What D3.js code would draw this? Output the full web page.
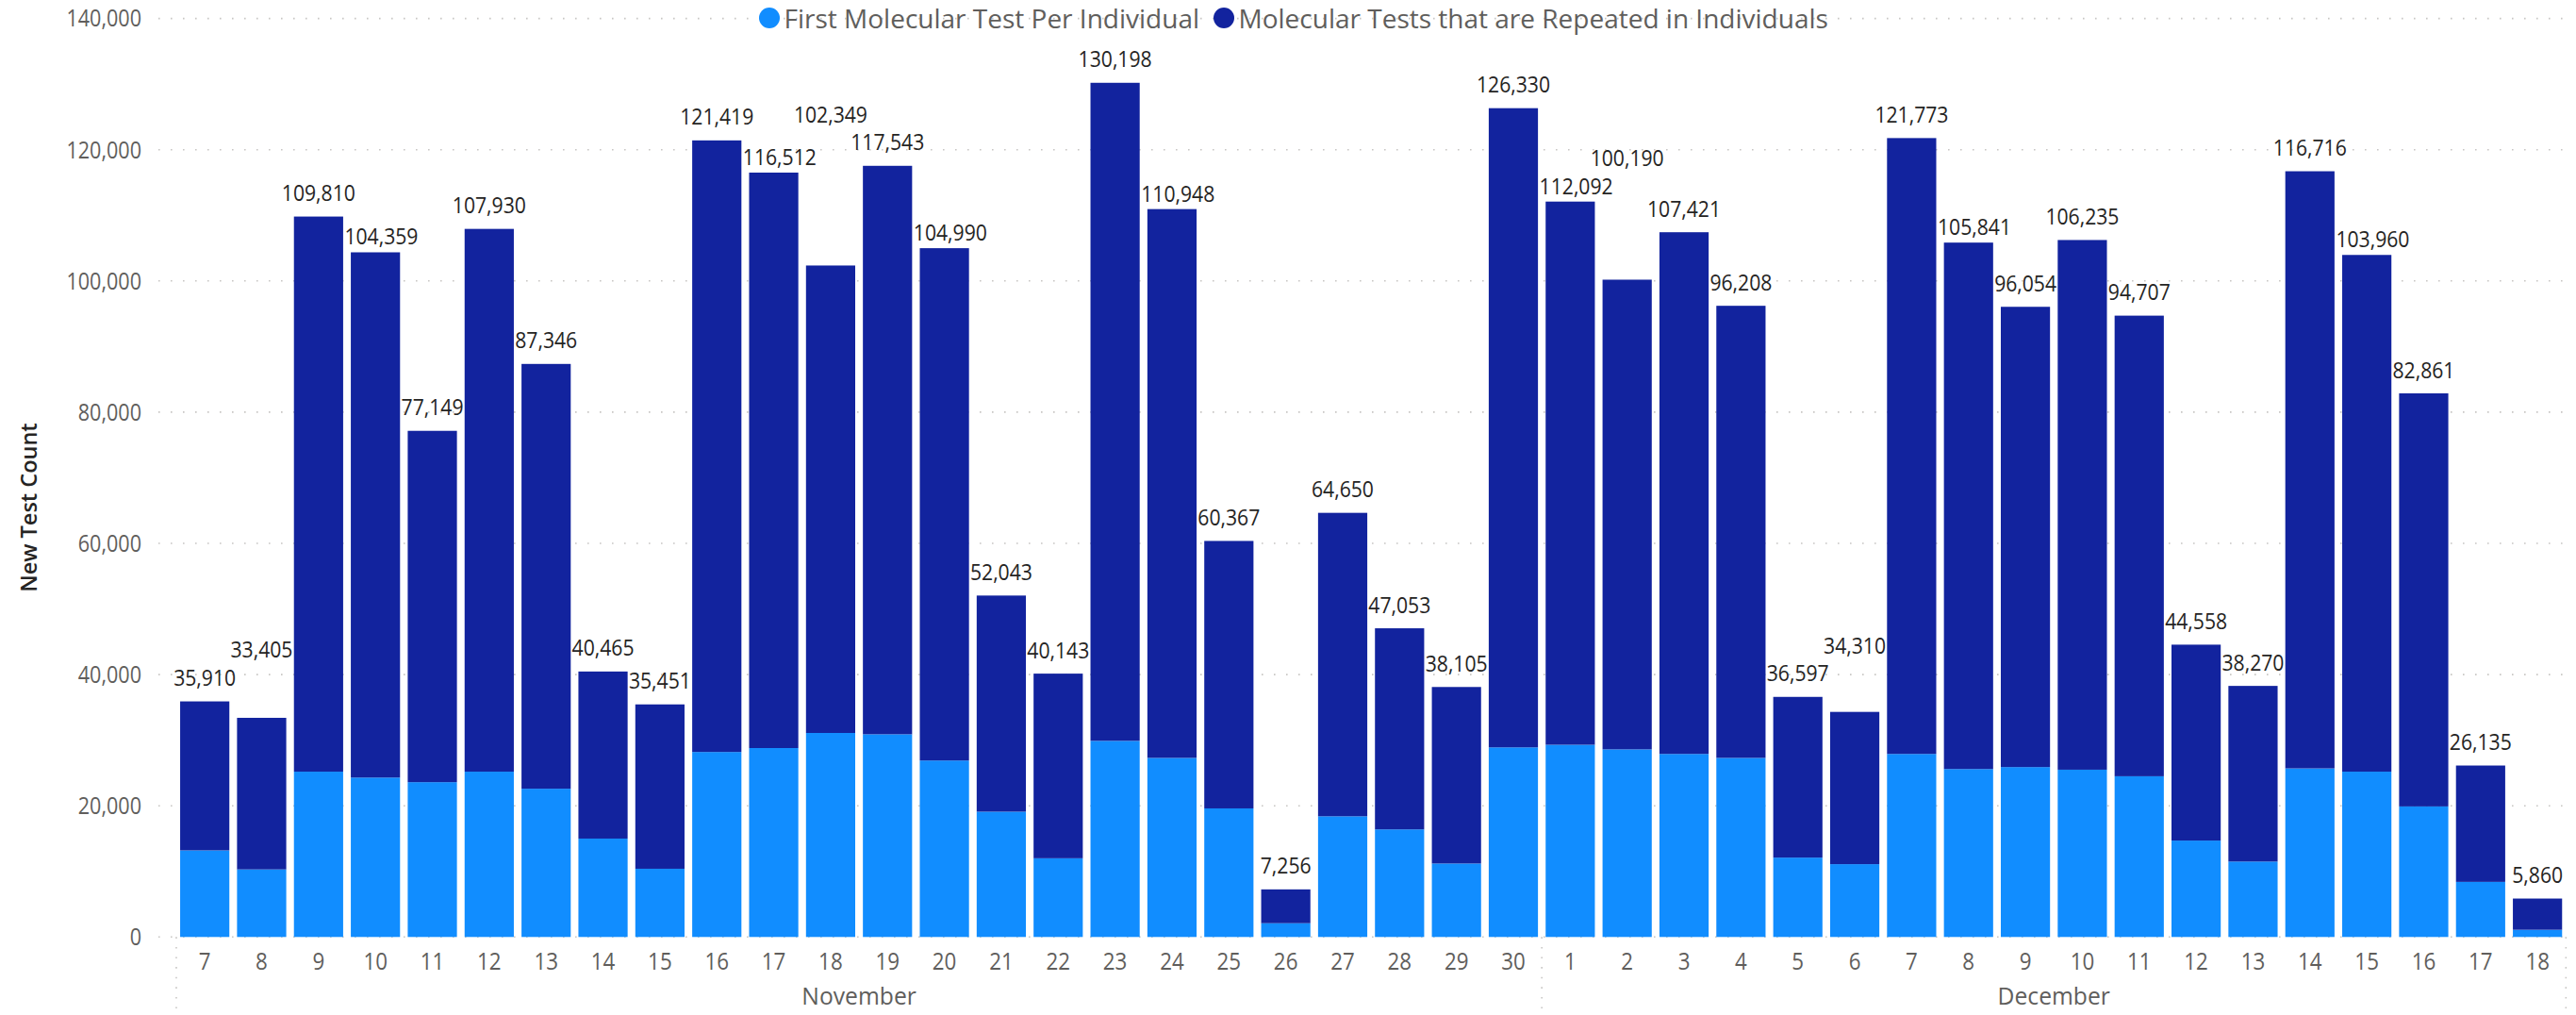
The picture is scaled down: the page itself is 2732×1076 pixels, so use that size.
<!DOCTYPE html>
<html>
<head>
<meta charset="utf-8">
<script src="https://cdn.jsdelivr.net/npm/d3@7"></script>
<style>
  body { margin: 0; background: #ffffff; }
  svg { display: block; }
  text { font-family: "Open Sans", "Segoe UI", sans-serif; }
</style>
</head>
<body>
<svg id="chart" width="2732" height="1076"></svg>
<script>
// ---------------- DATA ----------------
const days = ["7","8","9","10","11","12","13","14","15","16","17","18","19","20","21","22","23","24","25","26","27","28","29","30",
              "1","2","3","4","5","6","7","8","9","10","11","12","13","14","15","16","17","18"];
const months = ["November","November","November","November","November","November","November","November","November","November",
                "November","November","November","November","November","November","November","November","November","November",
                "November","November","November","November",
                "December","December","December","December","December","December","December","December","December","December",
                "December","December","December","December","December","December","December","December"];
const monthNames = ["November", "December"];
const totals = [35910, 33405, 109810, 104359, 77149, 107930, 87346, 40465, 35451, 121419, 116512, 102349, 117543, 104990,
                52043, 40143, 130198, 110948, 60367, 7256, 64650, 47053, 38105, 126330,
                112092, 100190, 107421, 96208, 36597, 34310, 121773, 105841, 96054, 106235, 94707, 44558, 38270, 116716,
                103960, 82861, 26135, 5860];
const firstTests = [13200, 10300, 25200, 24300, 23600, 25200, 22600, 15000, 10400, 28200, 28800, 31100, 30900, 26900,
                    19100, 12000, 29900, 27300, 19600, 2100, 18400, 16400, 11200, 28900,
                    29300, 28600, 27900, 27300, 12100, 11100, 27900, 25600, 25900, 25500, 24500, 14700, 11500, 25700,
                    25200, 19900, 8400, 1100];
const seriesNames = ["First Molecular Test Per Individual", "Molecular Tests that are Repeated in Individuals"];
const seriesColors = ["#118DFF", "#12239E"];
const yTicks = [0, 20000, 40000, 60000, 80000, 100000, 120000, 140000];
const yTitle = "New Test Count";

// ---------------- SETUP ----------------
const svg = d3.select("#chart");
const keys = days.map((d, i) => months[i] + "-" + d);
const rows = keys.map((k, i) => ({ key: k, first: firstTests[i], repeat: totals[i] - firstTests[i], total: totals[i] }));

const x = d3.scaleBand().domain(keys).range([182.9, 2725.4]).paddingInner(0.135).paddingOuter(0.135);
const y = d3.scaleLinear().domain([0, 140000]).range([993.3, 19.6]);
const fmt = d3.format(",");
const GRID = "#C8C6C4";
const AXIS_TXT = "#605E5C";

// gridlines
svg.append("g").selectAll("line").data(yTicks).join("line")
  .attr("x1", 168).attr("x2", 2725)
  .attr("y1", d => y(d)).attr("y2", d => y(d))
  .attr("stroke", GRID).attr("stroke-width", 1.6).attr("stroke-dasharray", "1.6 11.4");

// y axis
const yAx = svg.append("g").attr("transform", "translate(150,0)")
  .call(d3.axisLeft(y).tickValues(yTicks).tickSize(0).tickPadding(0).tickFormat(fmt));
yAx.select(".domain").remove();
yAx.selectAll("text").attr("font-size", 26).attr("fill", AXIS_TXT)
  .attr("font-family", "'Open Sans', sans-serif").attr("transform", "scale(0.83,1)");

// bars
const stack = d3.stack().keys(["first", "repeat"]);
const layers = stack(rows);
svg.append("g").selectAll("g").data(layers).join("g")
  .attr("fill", (d, i) => seriesColors[i])
  .selectAll("rect").data(d => d).join("rect")
  .attr("x", d => x(d.data.key))
  .attr("width", x.bandwidth())
  .attr("y", d => y(d[1]))
  .attr("height", d => y(d[0]) - y(d[1]));

// x axis (days)
const xAx = svg.append("g").attr("transform", `translate(0,${y(0)})`)
  .call(d3.axisBottom(x).tickSize(0).tickPadding(16.5).tickFormat((k) => days[keys.indexOf(k)]));
xAx.select(".domain").remove();
xAx.selectAll("text").attr("font-size", 26).attr("fill", AXIS_TXT)
  .attr("font-family", "'Open Sans', sans-serif").attr("transform", "scale(0.86,1)");

// month labels + separators
const gap = x.step() - x.bandwidth();
const sepXs = [];
monthNames.forEach(m => {
  const ks = keys.filter((k, i) => months[i] === m);
  const l = x(ks[0]), r = x(ks[ks.length - 1]) + x.bandwidth();
  sepXs.push(l - gap / 2);
  svg.append("text")
    .attr("transform", `translate(${(l + r) / 2},1065) scale(0.95,1)`)
    .attr("text-anchor", "middle").attr("font-size", 26).attr("fill", AXIS_TXT)
    .text(m);
});
sepXs.push(x(keys[keys.length - 1]) + x.bandwidth() + gap / 2);
svg.append("g").selectAll("line").data(sepXs).join("line")
  .attr("x1", d => d).attr("x2", d => d).attr("y1", y(0)).attr("y2", 1076)
  .attr("stroke", GRID).attr("stroke-width", 1.6).attr("stroke-dasharray", "1.6 9");

// y title
svg.append("text")
  .attr("transform", "translate(30,538) rotate(-90)")
  .attr("text-anchor", "middle").attr("dominant-baseline", "central")
  .attr("font-size", 23.5).attr("font-weight", 600).attr("fill", "#252423")
  .text(yTitle);

// legend
const leg = svg.append("g");
let lx = 816;
seriesNames.forEach((name, i) => {
  leg.append("circle").attr("cx", lx).attr("cy", 19).attr("r", 11).attr("fill", seriesColors[i]);
  const t = leg.append("text").attr("x", lx + 15.5).attr("y", 30)
    .attr("font-size", 28).attr("fill", AXIS_TXT).text(name);
  const w = t.node().getComputedTextLength();
  lx = lx + 15.5 + w + 26;
});

// ---------------- DATA LABELS with collision avoidance ----------------
const LSX = 0.9, TH = 17, NG = 16.5, LG = 8, PAD = 12;
const labelG = svg.append("g");
const labs = rows.map((r, i) => {
  const t = labelG.append("text").attr("font-size", 23.5).attr("fill", "#252423")
    .attr("text-anchor", "middle").text(fmt(r.total));
  const w = t.node().getComputedTextLength() * LSX;
  const cx0 = x(r.key) + x.bandwidth() / 2;
  return { i, node: t, w, cx0, top: y(r.total), total: r.total };
});
const bars = rows.map(r => ({ l: x(r.key), r: x(r.key) + x.bandwidth(), top: y(r.total) }));

function hitBars(cx, w, base) {
  const l = cx - w / 2, r = cx + w / 2;
  return bars.some(b => r > b.l + 0.5 && l < b.r - 0.5 && base > b.top);
}
function hitLabels(cx, w, base, placed) {
  const l = cx - w / 2, r = cx + w / 2, t = base - TH;
  return placed.some(p => r > p.l && l < p.r && t < p.base + PAD && base + PAD > p.t);
}
function place(lab, cx, base, arr) {
  lab.cx = cx; lab.base = base;
  arr.push({ l: cx - lab.w / 2, r: cx + lab.w / 2, base: base, t: base - TH });
}
function shifts(lab) {
  const s = [];
  const i = lab.i;
  if (i > 0 && bars[i - 1].top < lab.top) s.push((bars[i - 1].r + 1.5) - (lab.cx0 - lab.w / 2));
  if (i < bars.length - 1 && bars[i + 1].top < lab.top) s.push((bars[i + 1].l - 1.5) - (lab.cx0 + lab.w / 2));
  return s;
}

const placed = [];
const normal = [], shifted = [], raise = [];
labs.forEach(lab => {
  const base0 = lab.top - NG;
  if (!hitBars(lab.cx0, lab.w, base0)) { lab.ncx = lab.cx0; lab.nbase = base0; normal.push(lab); return; }
  for (const dx of shifts(lab)) {
    const cx = lab.cx0 + dx, b = lab.top - LG;
    if (!hitBars(cx, lab.w, b)) { lab.ncx = cx; lab.nbase = b; shifted.push(lab); return; }
  }
  raise.push(lab);
});
const byTotal = (a, b) => b.total - a.total;
normal.sort(byTotal).forEach(lab => {
  if (hitLabels(lab.ncx, lab.w, lab.nbase, placed)) raise.push(lab);
  else place(lab, lab.ncx, lab.nbase, placed);
});
shifted.sort(byTotal).forEach(lab => {
  if (hitLabels(lab.ncx, lab.w, lab.nbase, placed)) raise.push(lab);
  else place(lab, lab.ncx, lab.nbase, placed);
});
raise.sort(byTotal).forEach(lab => {
  let best = null;
  [0, ...shifts(lab)].forEach(dx => {
    const cx = lab.cx0 + dx;
    for (let b = lab.top - NG; b > 20; b -= 1) {
      if (!hitBars(cx, lab.w, b) && !hitLabels(cx, lab.w, b, placed)) {
        if (!best || b > best.b + 0.5) best = { cx, b };
        break;
      }
    }
  });
  if (!best) best = { cx: lab.cx0, b: lab.top - NG };
  place(lab, best.cx, best.b, placed);
});
labs.forEach(lab => {
  lab.node.attr("transform", `translate(${lab.cx},${lab.base}) scale(${LSX},1)`);
});
</script>
</body>
</html>
